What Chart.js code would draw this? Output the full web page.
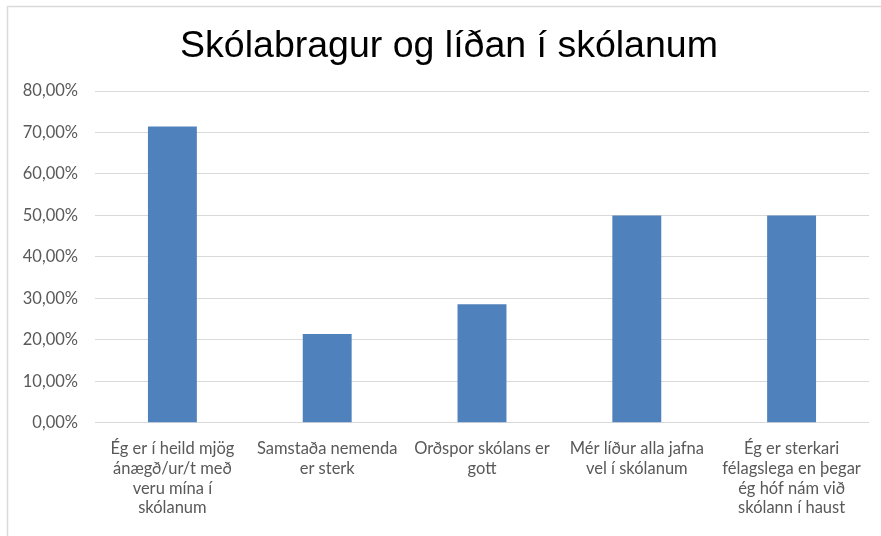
<!DOCTYPE html>
<html>
<head>
<meta charset="utf-8">
<script src="https://cdn.jsdelivr.net/npm/chart.js@4/dist/chart.umd.min.js"></script>
<style>
  html, body { margin: 0; padding: 0; background: #ffffff; }
  #wrap { width: 881px; height: 536px; position: relative; }
</style>
</head>
<body>
<div id="wrap"><canvas id="c" width="881" height="536"></canvas></div>
<script>
const chartTitle = "Skólabragur og líðan í skólanum";
const categories = [
  ["Ég er í heild mjög", "ánægð/ur/t með", "veru mína í", "skólanum"],
  ["Samstaða nemenda", "er sterk"],
  ["Orðspor skólans er", "gott"],
  ["Mér líður alla jafna", "vel í skólanum"],
  ["Ég er sterkari", "félagslega en þegar", "ég hóf nám við", "skólann í haust"]
];
const values = [71.43, 21.43, 28.57, 50.0, 50.0];
const yMin = 0, yMax = 80, yStep = 10;

const frame = {
  id: 'frame',
  beforeDraw(chart) {
    const ctx = chart.ctx;
    ctx.save();
    ctx.fillStyle = '#ffffff';
    ctx.fillRect(0, 0, chart.width, chart.height);
    ctx.strokeStyle = '#d9d9d9';
    ctx.lineWidth = 1.5;
    ctx.beginPath();
    ctx.moveTo(7.5, chart.height);
    ctx.lineTo(7.5, 6.5);
    ctx.lineTo(chart.width, 6.5);
    ctx.stroke();
    // chart title (centred on the chart frame, as in the original)
    ctx.fillStyle = '#000000';
    ctx.font = 'normal 37.5px "Liberation Sans", Arial, sans-serif';
    ctx.textAlign = 'center';
    ctx.textBaseline = 'alphabetic';
    ctx.fillText(chartTitle, 449, 57);
    ctx.restore();
  }
};

new Chart(document.getElementById('c'), {
  type: 'bar',
  data: {
    labels: categories,
    datasets: [{
      data: values,
      backgroundColor: '#4f81bd',
      borderWidth: 0,
      barPercentage: 0.316,
      categoryPercentage: 1.0
    }]
  },
  options: {
    responsive: false,
    animation: false,
    devicePixelRatio: 1,
    layout: { padding: { left: 10, right: 12, top: 91, bottom: 2 } },
    plugins: {
      legend: { display: false },
      tooltip: { enabled: false },
      title: { display: false }
    },
    scales: {
      x: {
        grid: { display: false, drawTicks: false },
        border: { display: false },
        ticks: {
          color: '#595959',
          font: { family: 'Lato, Carlito, Calibri, sans-serif', size: 16.5, lineHeight: 1.2 },
          padding: 16,
          maxRotation: 0,
          minRotation: 0,
          autoSkip: false
        }
      },
      y: {
        min: yMin,
        max: yMax,
        afterFit(scale) { scale.width = 85; },
        grid: { color: '#d9d9d9', lineWidth: 1, drawTicks: false },
        border: { display: false },
        ticks: {
          stepSize: yStep,
          color: '#595959',
          font: { family: 'Lato, Carlito, Calibri, sans-serif', size: 16.5 },
          padding: 17,
          callback: (v) => v.toFixed(2).replace('.', ',') + '%'
        }
      }
    }
  },
  plugins: [frame]
});
</script>
</body>
</html>
